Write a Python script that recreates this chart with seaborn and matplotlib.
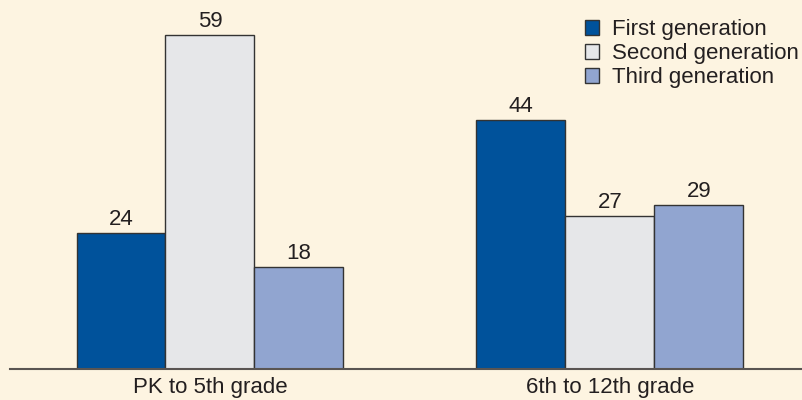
import pandas as pd
import numpy as np
import matplotlib.pyplot as plt
import seaborn as sns

# data
grades = ["PK to 5th grade", "6th to 12th grade"]
generations = ["First generation", "Second generation", "Third generation"]
first_gen = [24, 44]
second_gen = [59, 27]
third_gen = [18, 29]

rows = []
for i, g in enumerate(grades):
    rows.append((g, generations[0], first_gen[i]))
    rows.append((g, generations[1], second_gen[i]))
    rows.append((g, generations[2], third_gen[i]))
df = pd.DataFrame(rows, columns=["Grade", "Generation", "Value"])

bg = "#fdf4e1"
colors = ["#00529b", "#e6e7e9", "#91a5d0"]
text_col = "#231f20"
fs = 16

sns.set_style("white")
plt.rcParams["font.family"] = ["Liberation Sans", "DejaVu Sans"]

fig = plt.figure(figsize=(8.03, 4), dpi=100, facecolor=bg)
ax = fig.add_axes([10 / 803, 31 / 400, 1 - 10 / 803, 1 - 31 / 400])
ax.set_facecolor(bg)

sns.barplot(data=df, x="Grade", y="Value", hue="Generation", hue_order=generations,
            palette=colors, width=0.667, edgecolor="#333333", linewidth=1.0,
            saturation=1, ax=ax)

for cont in ax.containers:
    ax.bar_label(cont, padding=2, fontsize=fs, color=text_col)

ax.set_xlim(-0.5, 1.483)
ax.set_ylim(0, 65.2)
ax.set_xlabel("")
ax.set_ylabel("")
ax.set_yticks([])
ax.tick_params(axis="x", length=0, labelsize=fs, labelcolor=text_col, pad=6)
for s in ["top", "right", "left"]:
    ax.spines[s].set_visible(False)
ax.spines["bottom"].set_color("#5a5552")
ax.spines["bottom"].set_linewidth(1.5)

leg = ax.legend(loc="upper left", bbox_to_anchor=(585 / 803, 1 - 19 / 400),
                bbox_transform=fig.transFigure, frameon=False, fontsize=fs,
                handlelength=0.65, handleheight=0.65, handletextpad=0.55,
                labelspacing=0.14, borderaxespad=0, borderpad=0)
for t in leg.get_texts():
    t.set_color(text_col)

fig.savefig("out.png", dpi=100, facecolor=bg)
